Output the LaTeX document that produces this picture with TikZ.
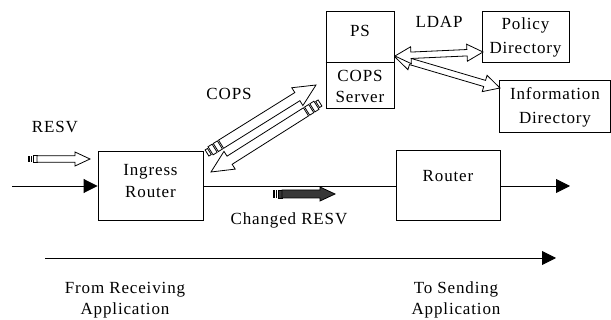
\documentclass[tikz,border=0pt]{standalone}
\usepackage{fontspec}
\setmainfont{Liberation Serif}[LetterSpace=5]
\usetikzlibrary{arrows.meta,calc}

\tikzset{
  box/.style={draw, line width=0.9pt, inner sep=0pt},
  lbl/.style={inner sep=0pt, align=center, font=\fontsize{17}{22}\selectfont},
  flow/.style={line width=0.9pt, -{Triangle[length=14pt,width=14pt]}},
  wire/.style={line width=0.9pt},
  blockfill/.store in=\blockfill, blockfill=white,
  blockbody/.store in=\blockbody, blockbody=3.2,
  % block arrow with two solid bars and a small box at its tail
  pics/stripearrow/.style={code={
    \fill (0,-\blockbody) rectangle (1.6,\blockbody);
    \fill (2.8,-\blockbody) rectangle (4.4,\blockbody);
    \draw[line width=0.8pt, fill=\blockfill] (5.6,-\blockbody) rectangle (9,\blockbody);
    \draw[line width=0.8pt, fill=\blockfill] (9,-\blockbody) -- ({#1-15},-\blockbody) -- ({#1-15},-7)
      -- (#1,0) -- ({#1-15},7) -- ({#1-15},\blockbody) -- (9,\blockbody) -- cycle;
  }},
  % block arrow with hollow segments at its tail
  pics/segarrow/.style={code={
    \draw[line width=0.8pt] (0,-3.6) rectangle (2.8,3.6);
    \draw[line width=0.8pt] (4.2,-4.8) rectangle (9,4.8);
    \draw[line width=0.8pt] (10.4,-4.8) rectangle (15.2,4.8);
    \draw[line width=0.8pt, fill=white] (16.6,-4.8) -- ({#1-22},-4.8) -- ({#1-22},-10.5)
      -- (#1,0) -- ({#1-22},10.5) -- ({#1-22},4.8) -- (16.6,4.8) -- cycle;
  }},
  % hollow block arrow with a head at each end
  pics/dblarrow/.style={code={
    \draw[line width=0.8pt, fill=white] (0,0) -- (16,-8.5) -- (16,-3.2) -- ({#1-16},-3.2)
      -- ({#1-16},-8.5) -- (#1,0) -- ({#1-16},8.5) -- ({#1-16},3.2) -- (16,3.2) -- (16,8.5) -- cycle;
  }},
}

% place a block-arrow pic from one named point to another
\newcommand\blockarrow[4][]{%
  \path let \p1=($(#4)-(#3)$) in \pgfextra{%
    \pgfmathsetmacro\blkang{atan2(\y1,\x1)}%
    \pgfmathsetmacro\blklen{veclen(\x1,\y1)}%
    \global\let\blkang\blkang\global\let\blklen\blklen};
  \path (#3) pic[rotate=\blkang,#1] {#2=\blklen};%
}

\begin{document}
\begin{tikzpicture}[x=1pt,y=-1pt]
\useasboundingbox (0,0) rectangle (611,320);

% boxes
\node[box, minimum width=105pt, minimum height=69pt] (ingress) at (150.5,185.5) {};
\node[box, minimum width=104pt, minimum height=70pt] (router) at (448,185.7) {};
\node[box, minimum width=68pt, minimum height=51pt] (ps) at (360,36.5) {};
\node[box, minimum width=68pt, minimum height=46pt] (server) at (360,85) {};
\draw[line width=1.5pt] (ps.south west) -- (ps.south east);
\node[box, minimum width=87pt, minimum height=51pt] (policy) at (525.5,36.5) {};
\node[box, minimum width=111pt, minimum height=52pt] (info) at (554.5,106) {};

% box texts
\node[lbl] (ingresstxt) at (150.5,181.3) {Ingress\\Router};
\node[lbl, anchor=base] (routertxt) at (448,181.7) {Router};
\node[lbl, anchor=base] (pstxt) at (360,37) {PS};
\node[lbl] (servertxt) at (360,86.5) {COPS\\[-1pt]Server};
\node[lbl] (policytxt) at (525.5,37.5) {Policy\\[2pt]Directory};
\node[lbl] (infotxt) at (555,107) {Information\\[2pt]Directory};

% free labels
\node[lbl, anchor=base] (resvlbl) at (55,133) {RESV};
\node[lbl, anchor=base] (copslbl) at (229,100) {COPS};
\node[lbl, anchor=base] (ldaplbl) at (439,28) {LDAP};
\node[lbl, anchor=base] (chglbl) at (289,225) {Changed RESV};
\node[lbl] (fromlbl) at (125,300) {From Receiving\\[-0.5pt]Application};
\node[lbl] (tolbl) at (456,300) {To Sending\\[-0.5pt]Application};

% data path
\coordinate (src) at (12,186);
\coordinate (dst) at (570,186);
\draw[flow] (src) -- (src -| ingress.west);
\draw[wire] (src -| ingress.east) -- (src -| router.west);
\draw[flow] (src -| router.east) -- (dst);

% overall direction
\coordinate (dirA) at (45,258);
\coordinate (dirB) at (556,258);
\draw[flow] (dirA) -- (dirB);

% message arrows
\coordinate (resvA) at (28,159);
\coordinate (resvB) at (90,159);
\blockarrow{stripearrow}{resvA}{resvB}

\coordinate (chgA) at (273,194);
\coordinate (chgB) at (335,194);
\blockarrow[blockfill=black!78, blockbody=4]{stripearrow}{chgA}{chgB}

\coordinate (copsA1) at (207,153);
\coordinate (copsA2) at (316,85);
\blockarrow{segarrow}{copsA1}{copsA2}
\coordinate (copsB1) at (320,103);
\coordinate (copsB2) at (211,172);
\blockarrow{segarrow}{copsB1}{copsB2}

\coordinate (ldapP) at (395,56);
\coordinate (ldapQ) at (483,52);
\coordinate (ldapR) at (395,57);
\coordinate (ldapS) at (500,88);
\blockarrow{dblarrow}{ldapR}{ldapS}
\blockarrow{dblarrow}{ldapP}{ldapQ}
\end{tikzpicture}
\end{document}
